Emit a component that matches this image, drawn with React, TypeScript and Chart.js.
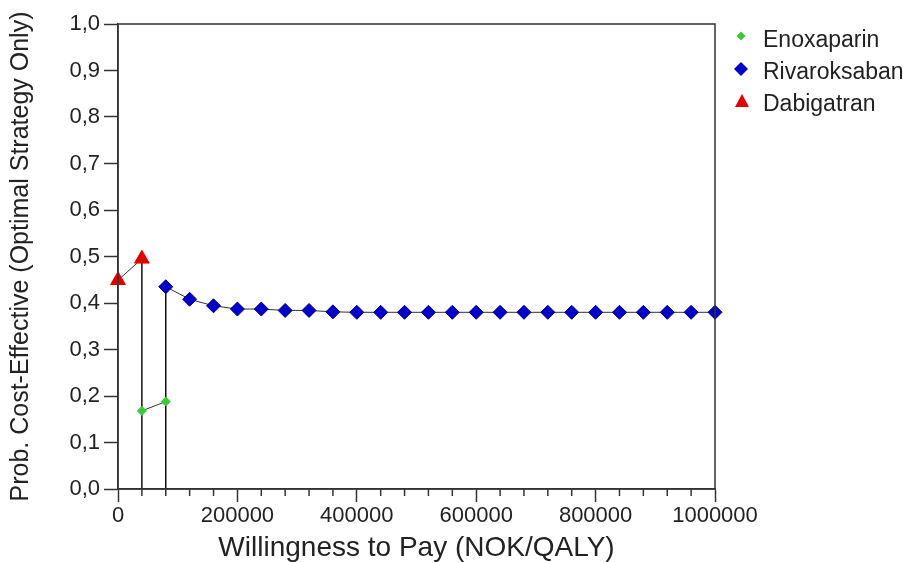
import { useEffect, useRef } from 'react';
import { Chart, registerables } from 'chart.js';

Chart.register(...registerables);

// ---- data ----
const legendLabels = ['Enoxaparin', 'Rivaroksaban', 'Dabigatran'];

const enoxaparinWtp = [40000, 80000];
const enoxaparinProb = [0.168, 0.188];

const rivaroksabanWtp = [
  80000, 120000, 160000, 200000, 240000, 280000, 320000, 360000,
  400000, 440000, 480000, 520000, 560000, 600000, 640000, 680000,
  720000, 760000, 800000, 840000, 880000, 920000, 960000, 1000000,
];
const rivaroksabanProb = [
  0.435, 0.408, 0.394, 0.387, 0.387, 0.384, 0.384, 0.381,
  0.380, 0.380, 0.380, 0.380, 0.380, 0.380, 0.380, 0.380,
  0.380, 0.380, 0.380, 0.380, 0.380, 0.380, 0.380, 0.380,
];

const dabigatranWtp = [0, 40000];
const dabigatranProb = [0.449, 0.495];

// vertical lines where the optimal strategy switches
const switchWtp = [40000, 80000];
const switchProb = [0.495, 0.435];

const xMajorTicks = [0, 200000, 400000, 600000, 800000, 1000000];
const xMinorTicks = [
  0, 40000, 80000, 120000, 160000, 200000, 240000, 280000, 320000, 360000,
  400000, 440000, 480000, 520000, 560000, 600000, 640000, 680000, 720000,
  760000, 800000, 840000, 880000, 920000, 960000, 1000000,
];
const yTickValues = [0, 0.1, 0.2, 0.3, 0.4, 0.5, 0.6, 0.7, 0.8, 0.9, 1.0];
const yTickLabels = ['0,0', '0,1', '0,2', '0,3', '0,4', '0,5', '0,6', '0,7', '0,8', '0,9', '1,0'];

const xTitle = 'Willingness to Pay (NOK/QALY)';
const yTitle = 'Prob. Cost-Effective (Optimal Strategy Only)';

const FONT = "'Liberation Sans', Arial, sans-serif";
const TEXT = '#222';
const AXIS = '#333';
const GREEN = '#3cc83c';
const BLUE = '#0000c8';
const RED = '#e00000';

const pts = (xs: number[], ys: number[]) => xs.map((x, i) => ({ x, y: ys[i] }));

export default function App() {
  const ref = useRef<HTMLCanvasElement>(null);

  useEffect(() => {
    const canvas = ref.current!;

    const framePlugin = {
      id: 'frame',
      afterDraw(chart: any) {
        const { ctx, chartArea: a, scales } = chart;
        ctx.save();
        ctx.strokeStyle = AXIS;
        ctx.lineWidth = 1.5;
        ctx.strokeRect(a.left, a.top, a.right - a.left, a.bottom - a.top);
        // minor x ticks
        ctx.beginPath();
        xMinorTicks.forEach((v) => {
          if (xMajorTicks.includes(v)) return;
          const px = scales.x.getPixelForValue(v);
          ctx.moveTo(px, a.bottom);
          ctx.lineTo(px, a.bottom + 7);
        });
        ctx.stroke();

        // legend
        const colors = [GREEN, BLUE, RED];
        const mx = 741;
        const textX = 763;
        const baselines = [47, 79, 111];
        ctx.font = `23px ${FONT}`;
        ctx.textBaseline = 'alphabetic';
        ctx.textAlign = 'left';
        legendLabels.forEach((label, i) => {
          const by = baselines[i];
          const cy = by - 10;
          ctx.fillStyle = colors[i];
          ctx.beginPath();
          if (i === 0) {
            ctx.moveTo(mx - 4.5, cy - 1);
            ctx.lineTo(mx, cy - 5.5);
            ctx.lineTo(mx + 4.5, cy - 1);
            ctx.lineTo(mx, cy + 3.5);
          } else if (i === 1) {
            ctx.moveTo(mx - 7, cy);
            ctx.lineTo(mx, cy - 7);
            ctx.lineTo(mx + 7, cy);
            ctx.lineTo(mx, cy + 7);
          } else {
            ctx.moveTo(mx + 1, cy - 7);
            ctx.lineTo(mx + 8, cy + 6);
            ctx.lineTo(mx - 6, cy + 6);
          }
          ctx.closePath();
          ctx.fill();
          ctx.fillStyle = TEXT;
          ctx.fillText(label, textX, by);
        });
        ctx.restore();
      },
    };

    const seriesLine = { borderColor: AXIS, borderWidth: 1, tension: 0, clip: false as const, order: 0 };

    const chart = new Chart(canvas, {
      type: 'line',
      data: {
        datasets: [
          {
            ...seriesLine,
            label: legendLabels[0],
            data: pts(enoxaparinWtp, enoxaparinProb),
            pointStyle: 'rectRot',
            pointRadius: 4.5,
            pointBackgroundColor: GREEN,
            pointBorderColor: GREEN,
            pointBorderWidth: 1,
          },
          {
            ...seriesLine,
            label: legendLabels[1],
            data: pts(rivaroksabanWtp, rivaroksabanProb),
            pointStyle: 'rectRot',
            pointRadius: 7,
            pointBackgroundColor: BLUE,
            pointBorderColor: '#00008a',
            pointBorderWidth: 1,
          },
          {
            ...seriesLine,
            label: legendLabels[2],
            data: pts(dabigatranWtp, dabigatranProb),
            pointStyle: 'triangle',
            pointRadius: 8.5,
            pointBackgroundColor: RED,
            pointBorderColor: RED,
            pointBorderWidth: 1,
          },
          ...switchWtp.map((x, i) => ({
            label: 'switch' + i,
            data: [{ x, y: 0 }, { x, y: switchProb[i] }],
            borderColor: '#111',
            borderWidth: 1.5,
            pointRadius: 0,
            clip: false as const,
            order: 10,
          })),
        ],
      },
      options: {
        animation: false,
        responsive: false,
        devicePixelRatio: 1,
        layout: { padding: { top: 24, right: 188, bottom: 0, left: 0 } },
        plugins: { legend: { display: false }, tooltip: { enabled: false } },
        scales: {
          x: {
            type: 'linear',
            min: 0,
            max: 1000000,
            z: 1,
            afterBuildTicks: (s: any) => {
              s.ticks = xMajorTicks.map((v) => ({ value: v }));
            },
            afterFit: (s: any) => {
              s.height = 73;
            },
            ticks: {
              autoSkip: false,
              maxRotation: 0,
              padding: 1,
              color: TEXT,
              font: { family: FONT, size: 22 },
              callback: (v: any) => String(v),
            },
            grid: { drawOnChartArea: false, tickLength: 13, tickColor: AXIS, tickWidth: 1.5 },
            border: { color: AXIS, width: 1.5 },
            title: {
              display: true,
              text: xTitle,
              color: TEXT,
              font: { family: FONT, size: 28, lineHeight: 1 },
              padding: { top: 0, bottom: 0 },
            },
          },
          y: {
            type: 'linear',
            min: 0,
            max: 1,
            z: 1,
            afterBuildTicks: (s: any) => {
              s.ticks = yTickValues.map((v) => ({ value: v }));
            },
            afterFit: (s: any) => {
              s.width = 118;
            },
            ticks: {
              autoSkip: false,
              padding: 4,
              color: TEXT,
              font: { family: FONT, size: 22 },
              callback: (_v: any, i: number) => yTickLabels[i],
            },
            grid: { drawOnChartArea: false, tickLength: 14, tickColor: AXIS, tickWidth: 1.5 },
            border: { color: AXIS, width: 1.5 },
            title: {
              display: true,
              text: yTitle,
              color: TEXT,
              font: { family: FONT, size: 25 },
              padding: { top: 6, bottom: 0 },
            },
          },
        },
      },
      plugins: [framePlugin],
    } as any);

    return () => chart.destroy();
  }, []);

  return (
    <div style={{ position: 'absolute', left: 0, top: 0, width: 903, height: 562, background: '#fff' }}>
      <canvas ref={ref} width={903} height={562} style={{ width: 903, height: 562, display: 'block' }} />
    </div>
  );
}
